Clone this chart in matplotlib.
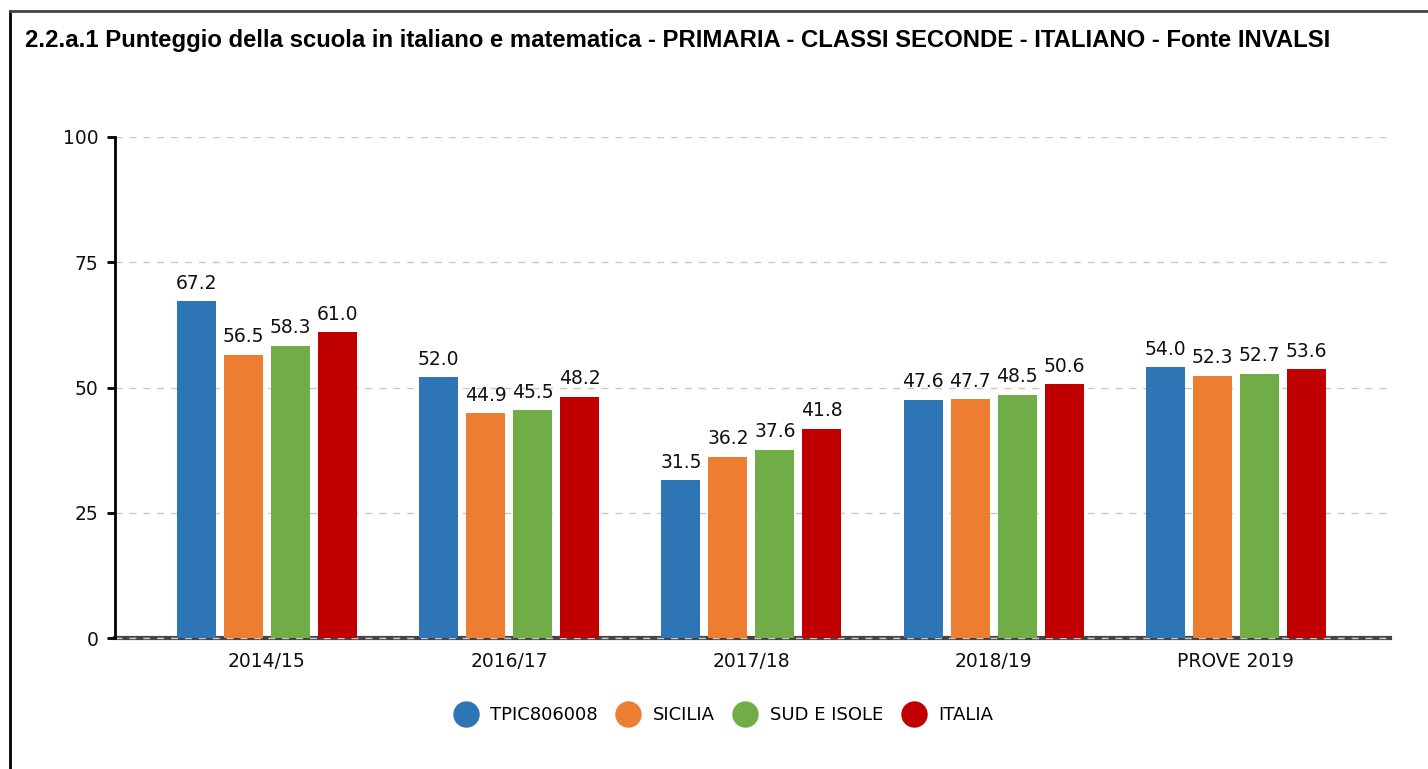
import matplotlib.pyplot as plt
import numpy as np
from matplotlib.lines import Line2D

categories = ["2014/15", "2016/17", "2017/18", "2018/19", "PROVE 2019"]
series_names = ["TPIC806008", "SICILIA", "SUD E ISOLE", "ITALIA"]
tpic = [67.2, 52.0, 31.5, 47.6, 54.0]
sicilia = [56.5, 44.9, 36.2, 47.7, 52.3]
sud = [58.3, 45.5, 37.6, 48.5, 52.7]
italia = [61.0, 48.2, 41.8, 50.6, 53.6]
colors = ["#2E75B6", "#ED7D31", "#70AD47", "#C00000"]
yticks = [0, 25, 50, 75, 100]

title = ("2.2.a.1 Punteggio della scuola in italiano e matematica - PRIMARIA - "
         "CLASSI SECONDE - ITALIANO - Fonte INVALSI")

fig = plt.figure(figsize=(14.28, 7.69), dpi=100)
ax = fig.add_axes([115 / 1428, 1 - 638 / 769, 1275 / 1428, 501 / 769])

x = np.arange(len(categories))
width = 0.161
step = 0.194
data = [tpic, sicilia, sud, italia]
for i, vals in enumerate(data):
    pos = x + (i - 1.5) * step
    bars = ax.bar(pos, vals, width, color=colors[i], zorder=3)
    for b, v in zip(bars, vals):
        ax.text(b.get_x() + b.get_width() / 2, v + 1.7, f"{v:.1f}",
                ha="center", va="bottom", fontsize=13.5, color="#111111",
                family="DejaVu Sans", zorder=4)

ax.set_xlim(-0.627, 4.636)
ax.set_ylim(0, 100)
ax.set_yticks(yticks)
ax.set_xticks(x)
ax.set_xticklabels(categories)
ax.tick_params(axis="y", length=6, width=2, color="black", labelsize=13.5, pad=6)
ax.tick_params(axis="x", length=0, labelsize=13.5, pad=10)
for lab in ax.get_xticklabels() + ax.get_yticklabels():
    lab.set_color("#111111")

ax.yaxis.grid(True, linestyle=(0, (5, 5)), color="#c8c8c8", linewidth=1, zorder=0)
ax.axhline(0, color="#444444", linewidth=3, zorder=1, clip_on=False)
ax.axhline(0, color="#c8c8c8", linewidth=1, linestyle=(0, (5, 5)), zorder=2, clip_on=False)

for s in ["top", "right", "bottom"]:
    ax.spines[s].set_visible(False)
ax.spines["left"].set_linewidth(2)
ax.spines["left"].set_color("black")

handles = [Line2D([0], [0], marker="o", linestyle="none", markersize=18,
                  markerfacecolor=c, markeredgecolor=c) for c in colors]
fig.legend(handles, series_names, loc="center", bbox_to_anchor=(723 / 1428, 1 - 715 / 769),
           ncol=4, frameon=False, fontsize=13, handletextpad=0.65, columnspacing=1.0,
           handlelength=1.4)

fig.text(25 / 1428, 1 - 40 / 769, title, fontsize=17.2, fontweight="bold",
         family="Liberation Sans", va="center", ha="left")

# frame around the chart (top and left edges)
fig.add_artist(Line2D([10 / 1428, 10 / 1428], [0, 1 - 11 / 769], color="black",
                      linewidth=2, transform=fig.transFigure))
fig.add_artist(Line2D([10 / 1428, 1], [1 - 11 / 769, 1 - 11 / 769], color="#444444",
                      linewidth=2, transform=fig.transFigure))

fig.savefig("out.png", dpi=100)
